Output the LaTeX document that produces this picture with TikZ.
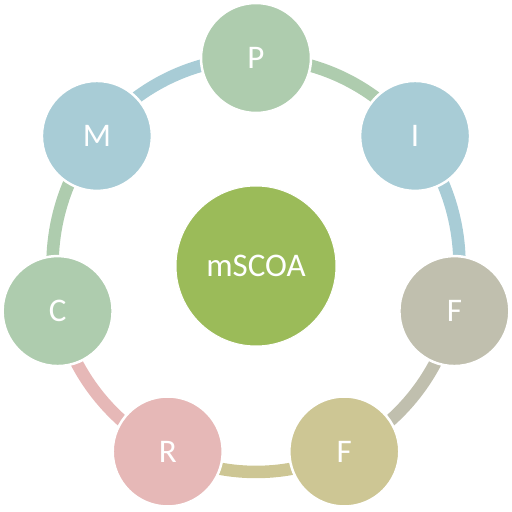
\documentclass[tikz,border=0pt]{standalone}
\usepackage{fontspec}
\setmainfont{Carlito}
\definecolor{cgreen}{HTML}{AECCAE}
\definecolor{cblue}{HTML}{A8CCD6}
\definecolor{cgrey}{HTML}{C0BFAE}
\definecolor{ckhaki}{HTML}{CDC694}
\definecolor{cpink}{HTML}{E6B8B7}
\definecolor{colive}{HTML}{9BBB59}
\tikzset{
  outer/.style={circle, draw=white, line width=2.5pt, minimum size=110pt, inner sep=0pt,
    text=white, font=\fontsize{33}{33}\selectfont},
  hub/.style={circle, draw=white, line width=1pt, fill=colive, minimum size=160pt, inner sep=0pt,
    text=white, font=\fontsize{33}{33}\selectfont},
  ring/.style={line width=12.5pt},
}
\begin{document}
\begin{tikzpicture}[x=1pt,y=1pt]
\useasboundingbox (0,0) rectangle (512,512);
\coordinate (O) at (256,247);
\def\rx{203.5}\def\ry{207}
\path (O) ++(90:\rx pt and \ry pt) coordinate (pP);
\path (O) ++(38.571:\rx pt and \ry pt) coordinate (pI);
\path (O) ++(-12.857:\rx pt and \ry pt) coordinate (pF1);
\path (O) ++(-64.286:\rx pt and \ry pt) coordinate (pF2);
\path (O) ++(-115.714:\rx pt and \ry pt) coordinate (pR);
\path (O) ++(-167.143:\rx pt and \ry pt) coordinate (pC);
\path (O) ++(-218.571:\rx pt and \ry pt) coordinate (pM);
% ring segments
\draw[ring, cgreen] (pP) arc[start angle=90, end angle=38.571, x radius=\rx pt, y radius=\ry pt];
\draw[ring, cblue] (pI) arc[start angle=38.571, end angle=-12.857, x radius=\rx pt, y radius=\ry pt];
\draw[ring, cgrey] (pF1) arc[start angle=-12.857, end angle=-64.286, x radius=\rx pt, y radius=\ry pt];
\draw[ring, ckhaki] (pF2) arc[start angle=-64.286, end angle=-115.714, x radius=\rx pt, y radius=\ry pt];
\draw[ring, cpink] (pR) arc[start angle=-115.714, end angle=-167.143, x radius=\rx pt, y radius=\ry pt];
\draw[ring, cgreen] (pC) arc[start angle=-167.143, end angle=-218.571, x radius=\rx pt, y radius=\ry pt];
\draw[ring, cblue] (pM) arc[start angle=-218.571, end angle=-270, x radius=\rx pt, y radius=\ry pt];
% circles
\node[outer, fill=cgreen] (P) at (pP) {P};
\node[outer, fill=cblue] (I) at (pI) {I};
\node[outer, fill=cgrey] (F1) at (pF1) {F};
\node[outer, fill=ckhaki] (F2) at (pF2) {F};
\node[outer, fill=cpink] (R) at (pR) {R};
\node[outer, fill=cgreen] (C) at (pC) {C};
\node[outer, fill=cblue] (M) at (pM) {M};
\node[hub] (hub) at (256,246) {mSCOA};
\end{tikzpicture}
\end{document}
